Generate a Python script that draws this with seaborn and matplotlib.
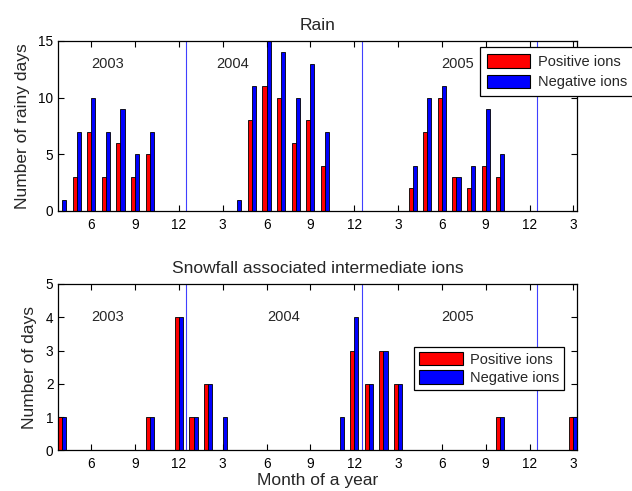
import numpy as np
import pandas as pd
import matplotlib
matplotlib.use("Agg")
import matplotlib.pyplot as plt
from matplotlib.patches import Patch
import seaborn as sns

# months from Apr 2003 to Mar 2006 (36 bars per series)
months = list(range(36))
tick_pos = list(range(2, 36, 3))
tick_labels = ["6", "9", "12", "3"] * 3
year_breaks = [8.5, 20.5, 32.5]

rain_pos = [0, 3, 7, 3, 6, 3, 5, 0, 0, 0, 0, 0,
            0, 8, 11, 10, 6, 8, 4, 0, 0, 0, 0, 0,
            2, 7, 10, 3, 2, 4, 3, 0, 0, 0, 0, 0]
rain_neg = [1, 7, 10, 7, 9, 5, 7, 0, 0, 0, 0, 0,
            1, 11, 15, 14, 10, 13, 7, 0, 0, 0, 0, 0,
            4, 10, 11, 3, 4, 9, 5, 0, 0, 0, 0, 0]

snow_pos = [1, 0, 0, 0, 0, 0, 1, 0, 4, 1, 2, 0,
            0, 0, 0, 0, 0, 0, 0, 0, 3, 2, 3, 2,
            0, 0, 0, 0, 0, 0, 1, 0, 0, 0, 0, 1]
snow_neg = [1, 0, 0, 0, 0, 0, 1, 0, 4, 1, 2, 1,
            0, 0, 0, 0, 0, 0, 0, 1, 4, 2, 3, 2,
            0, 0, 0, 0, 0, 0, 1, 0, 0, 0, 0, 1]

series = ["Positive ions", "Negative ions"]
colors = {"Positive ions": "#ff0000", "Negative ions": "#0000ff"}


def long_form(pos, neg):
    return pd.DataFrame({
        "month": months * 2,
        "days": pos + neg,
        "ions": [series[0]] * 36 + [series[1]] * 36,
    })


sns.set_style("ticks")
plt.rcParams["font.family"] = ["Liberation Sans", "DejaVu Sans"]

fig = plt.figure(figsize=(6.32, 4.91), dpi=100)
ax1 = fig.add_axes([0.0922, 0.5703, 0.8212, 0.3462])
ax2 = fig.add_axes([0.0922, 0.0829, 0.8212, 0.3387])

panels = [
    (ax1, long_form(rain_pos, rain_neg), "Rain", "Number of rainy days",
     [0, 5, 10, 15], 15, [(3.1, "2003"), (11.7, "2004"), (27.1, "2005")], 13,
     (0.8125, 0.962), 0.4, 0.45),
    (ax2, long_form(snow_pos, snow_neg), "Snowfall associated intermediate ions",
     "Number of days", [0, 1, 2, 3, 4, 5], 5,
     [(3.1, "2003"), (15.15, "2004"), (27.1, "2005")], 4, (0.685, 0.623),
     0.25, 0.35),
]

for ax, df, title, ylabel, yticks, ymax, years, ytext, leg_anchor, lsp, bpad in panels:
    sns.barplot(data=df, x="month", y="days", hue="ions", order=months,
                hue_order=series, palette=colors, width=0.56, gap=0,
                edgecolor="black", linewidth=0.6, saturation=1,
                legend=False, ax=ax, zorder=2)
    for xb in year_breaks:
        ax.axvline(xb, color="#4040ff", lw=0.8, zorder=1)
    for xt, label in years:
        ax.text(xt, ytext, label, ha="center", va="center", fontsize=10.5)

    ax.set_xlim(-0.26, 35.27)
    ax.set_ylim(0, ymax)
    ax.set_xticks(tick_pos)
    ax.set_xticklabels(tick_labels)
    ax.set_yticks(yticks)
    ax.tick_params(direction="in", length=4, width=0.8, top=True, right=True,
                   labelsize=9.8, colors="black")
    ax.tick_params(axis="x", pad=5)
    for sp in ax.spines.values():
        sp.set_visible(True)
        sp.set_linewidth(0.9)
        sp.set_color("black")
    ax.set_title(title, fontsize=12.5, pad=8)
    ax.set_ylabel(ylabel, fontsize=12.5, labelpad=6)
    ax.set_xlabel("")

    handles = [Patch(facecolor=colors[s], edgecolor="black", linewidth=0.8, label=s)
               for s in series]
    leg = ax.legend(handles=handles, loc="upper left", bbox_to_anchor=leg_anchor,
                    borderaxespad=0, fontsize=10.5, frameon=True, fancybox=False,
                    edgecolor="black", framealpha=1, handlelength=3.0,
                    handleheight=1.05, handletextpad=0.5, labelspacing=lsp,
                    borderpad=bpad)
    leg.get_frame().set_linewidth(0.9)

ax2.set_xlabel("Month of a year", fontsize=12.5, labelpad=1)

fig.savefig("out.png", dpi=100)
